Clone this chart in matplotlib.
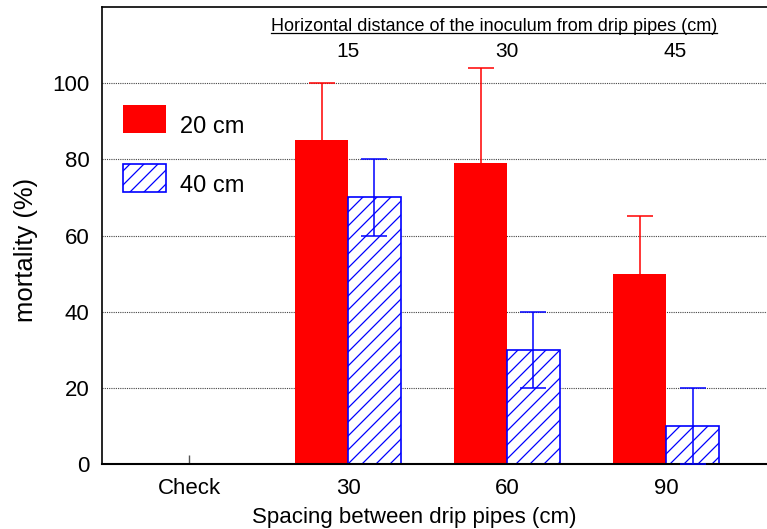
import matplotlib
matplotlib.use("Agg")
import matplotlib.pyplot as plt
from matplotlib.lines import Line2D
from matplotlib.patches import Patch
import matplotlib.transforms as mtransforms
import numpy as np

# Mortality (%) by spacing between drip pipes, for two inoculum depths
categories = ["Check", "30", "60", "90"]
distance_labels = ["15", "30", "45"]
mort_20cm = [0, 85, 79, 50]
err_20cm_upper = [0, 15, 25, 15]
mort_40cm = [0, 70, 30, 10]
err_40cm = [0, 10, 10, 10]
yticks = [0, 20, 40, 60, 80, 100]

DPI = 84
P = 100 / DPI          # point sizes below are given for a 100-dpi canvas

plt.rcParams['font.family'] = ['Liberation Sans', 'DejaVu Sans']
plt.rcParams['hatch.linewidth'] = 0.9 * P

RED = '#ff0000'
BLUE = '#0000ff'

fig = plt.figure(figsize=(767 / DPI, 529 / DPI), dpi=DPI)
ax = fig.add_axes([102 / 767, 65 / 529, 665 / 767, 457 / 529])

x = np.arange(len(categories))
w = 0.333

ax.bar(x - w / 2, mort_20cm, w, color=RED, edgecolor='none', zorder=2)
ax.bar(x + w / 2, mort_40cm, w, facecolor='white', edgecolor=BLUE,
       hatch='//', linewidth=1.2 * P, zorder=2)

# error bars only for the treated groups (the check has none)
t = slice(1, None)
red_mean = np.array(mort_20cm, dtype=float)[t]
eb_red = ax.errorbar((x - w / 2)[t], red_mean,
                     yerr=[np.zeros(len(x) - 1), np.array(err_20cm_upper)[t]],
                     fmt='none', ecolor=RED, elinewidth=1.1 * P,
                     capsize=9.5 * P, capthick=1.1 * P, zorder=3)
# 20 cm bars show only the upper whisker: drop the caps sitting on the bar tops
for cap in eb_red.lines[1]:
    if np.allclose(cap.get_ydata(), red_mean):
        cap.remove()
ax.errorbar((x + w / 2)[t], np.array(mort_40cm)[t],
            yerr=np.array(err_40cm)[t],
            fmt='none', ecolor=BLUE, elinewidth=1.1 * P, capsize=9.5 * P,
            capthick=1.1 * P, zorder=3)

ax.set_xlim(-0.547, 3.635)
ax.set_ylim(0, 120)
ax.set_yticks(yticks)
ax.set_xticks(x)
ax.set_xticklabels(categories)

ax.set_axisbelow(True)
ax.yaxis.grid(True, linestyle=(0, (1, 1)), color='#444444', linewidth=0.8 * P)
ax.xaxis.grid(False)

for s in ['top', 'left', 'bottom']:
    ax.spines[s].set_color('black')
ax.spines['top'].set_linewidth(1.2 * P)
ax.spines['left'].set_linewidth(1.2 * P)
ax.spines['bottom'].set_linewidth(1.5 * P)
ax.spines['right'].set_visible(False)

ax.tick_params(axis='x', direction='in', length=6.5 * P, width=1 * P,
               color='#555555', labelsize=16 * P, pad=10 * P)
ax.tick_params(axis='y', length=0, labelsize=16 * P, pad=9 * P)

ax.set_ylabel('mortality (%)', fontsize=18.5 * P)
ax.yaxis.set_label_coords(-0.096, 0.468)
ax.set_xlabel('Spacing between drip pipes (cm)', fontsize=16 * P)
ax.xaxis.set_label_coords(0.469, -0.095)

# distance labels above the treated groups
trans = mtransforms.blended_transform_factory(ax.transData, ax.transAxes)
label_x = x[1:] + np.array([0.0, 0.0, 0.06])
for xi, lab in zip(label_x, distance_labels):
    ax.text(xi, 0.903, lab, transform=trans, ha='center', va='center',
            fontsize=15 * P)
head = ax.text(1.92, 0.957, 'Horizontal distance of the inoculum from drip pipes (cm)',
               transform=trans, ha='center', va='center', fontsize=13 * P)

fs_leg = 17 * P
leg = ax.legend(handles=[Patch(facecolor=RED, edgecolor='none', label='20 cm'),
                         Patch(facecolor='white', edgecolor=BLUE, hatch='//',
                               linewidth=1.2 * P, label='40 cm')],
                loc='upper left', bbox_to_anchor=(0.0316, 0.7856),
                frameon=False, fontsize=fs_leg, handlelength=1.83,
                handleheight=1.45, handletextpad=0.6, labelspacing=1.32,
                borderpad=0, borderaxespad=0)
# legend labels sit a little below the centre of their swatches
drop = mtransforms.ScaledTranslation(0, -6 / DPI, fig.dpi_scale_trans)
for txt in leg.get_texts():
    txt.set_transform(txt.get_transform() + drop)

# underline the heading
fig.canvas.draw()
bb = head.get_window_extent(fig.canvas.get_renderer())
inv = fig.transFigure.inverted()
(x0, y0), (x1, y1) = inv.transform([[bb.x0, bb.y0], [bb.x1, bb.y0]])
fig.add_artist(Line2D([x0, x1], [y0 + 0.004, y0 + 0.004], color='black',
                      linewidth=0.9 * P, transform=fig.transFigure))

fig.savefig('out.png', dpi=DPI)
